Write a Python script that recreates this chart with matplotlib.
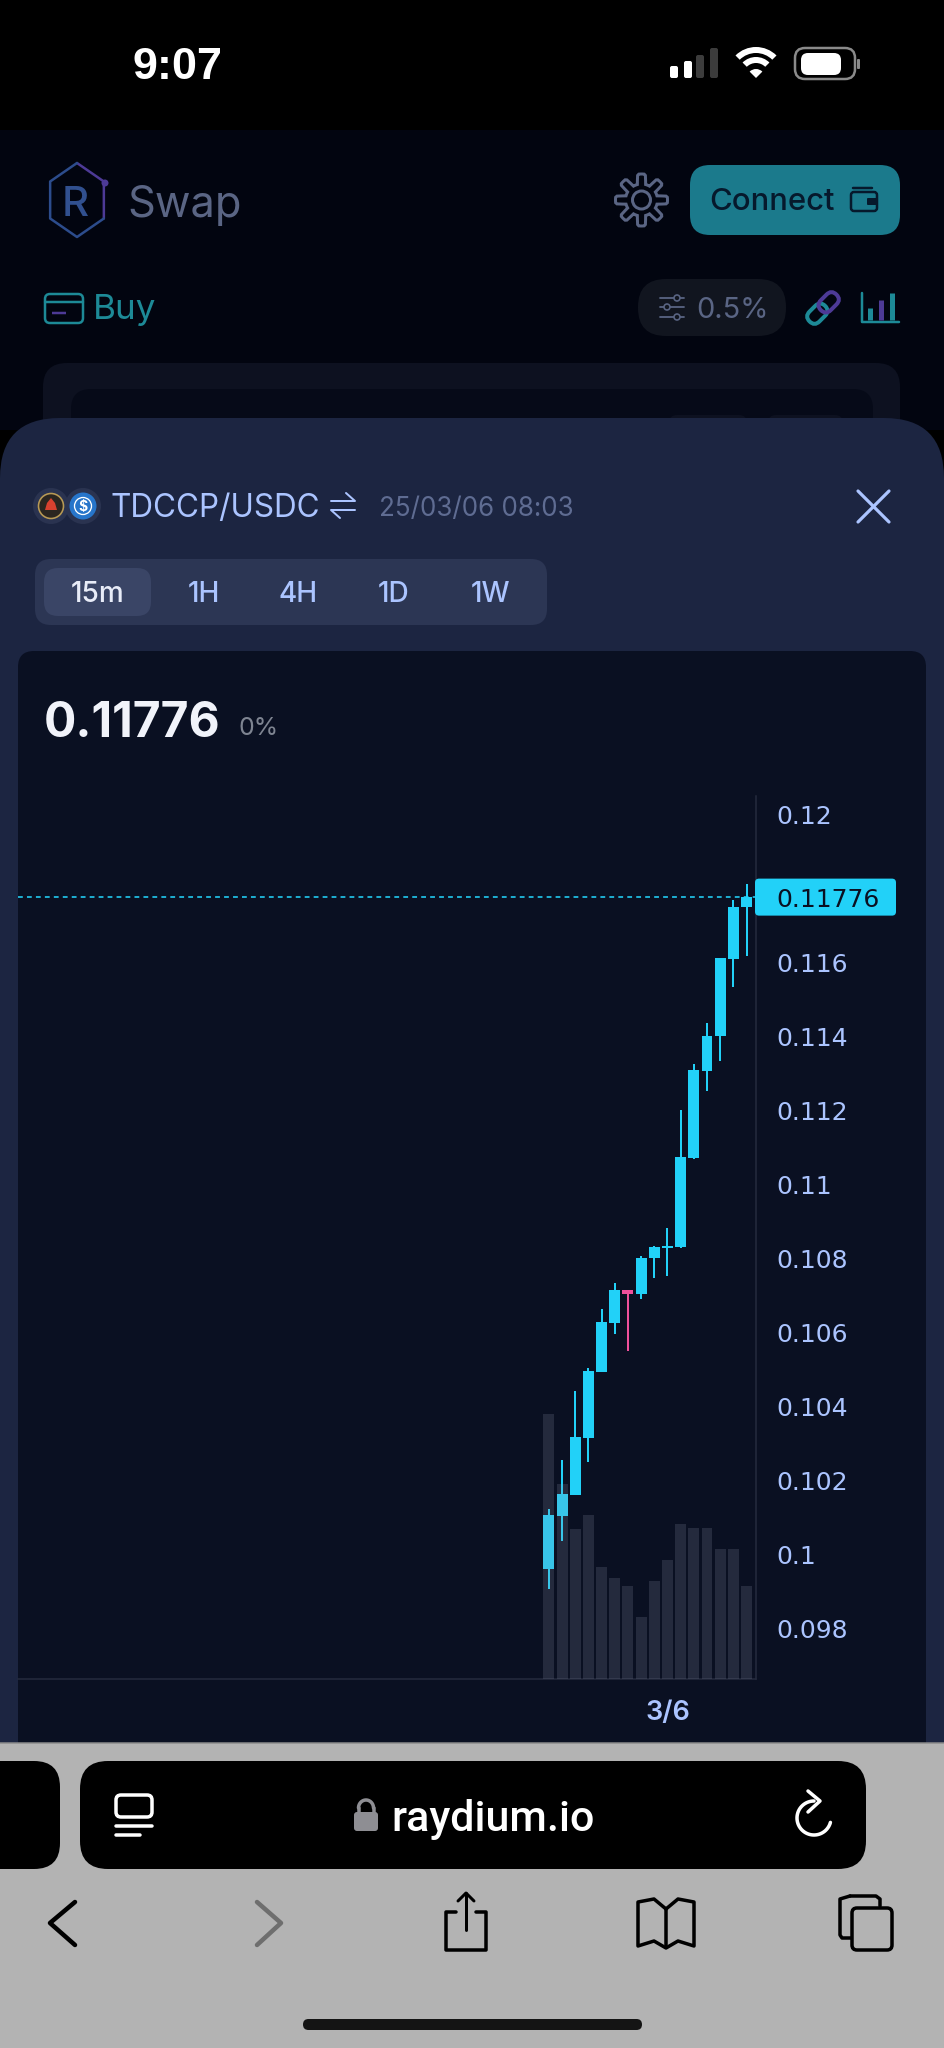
#!/usr/bin/env python3
"""Phone screenshot of the Raydium TDCCP/USDC 15m candle chart, redrawn with matplotlib."""
import matplotlib
matplotlib.use("Agg")
import matplotlib.pyplot as plt
import numpy as np
from matplotlib.patches import Circle, FancyBboxPatch, Polygon, Wedge
from matplotlib.transforms import Affine2D

plt.rcParams["font.family"] = ["Inter", "DejaVu Sans"]

# candle values
opens = [0.09963, 0.10105, 0.10163, 0.10317, 0.10495, 0.10627, 0.10715, 0.10704,
         0.10802, 0.10828, 0.10832, 0.11071, 0.11307, 0.11400, 0.11609, 0.11748]
closes = [0.10107, 0.10165, 0.10319, 0.10497, 0.10629, 0.10715, 0.10704, 0.10803,
          0.10831, 0.10833, 0.11073, 0.11309, 0.11402, 0.11611, 0.11749, 0.11776]
highs = [0.10125, 0.10256, 0.10443, 0.10506, 0.10664, 0.10735, 0.10715, 0.10807,
         0.10834, 0.10882, 0.11201, 0.11326, 0.11435, 0.11611, 0.11768, 0.11811]
lows = [0.09909, 0.10038, 0.10163, 0.10252, 0.10494, 0.10596, 0.10551, 0.10690,
        0.10748, 0.10754, 0.10830, 0.11068, 0.11253, 0.11334, 0.11534, 0.11618]
volumes = [100, 73.5, 56.8, 61.8, 42.4, 38.2, 35.1, 23.6,
           37.2, 45.1, 58.4, 57.1, 57.1, 49.0, 49.2, 35.1]
# 0.118 sits behind the price tag in the reference, so it is left out
y_ticks = [0.098, 0.1, 0.102, 0.104, 0.106, 0.108, 0.11, 0.112, 0.114, 0.116, 0.12]
y_labels = ["0.098", "0.1", "0.102", "0.104", "0.106", "0.108", "0.11", "0.112",
            "0.114", "0.116", "0.12"]
last_price = 0.11776
date_tick = 9
date_label = "3/6"
tabs = ["15m", "1H", "4H", "1D", "1W"]

W, H = 944, 2048
UP = "#22d1f8"
DOWN = "#f0509c"
PERI = "#abc4ff"
SHEET = "#1c2541"
PANEL = "#0a1022"
MUTED = "#5a6584"
TEAL = "#1d8a97"
PURPLE = "#4d3a96"


def pt(px):
    return px * 0.72


def rrect(a, x0, y0, x1, y1, r, fc="none", ec="none", lw=0, z=1):
    p = FancyBboxPatch((x0 + r, y0 + r), x1 - x0 - 2 * r, y1 - y0 - 2 * r,
                       boxstyle=f"round,pad={r},rounding_size={r}",
                       fc=fc, ec=ec, lw=pt(lw), zorder=z)
    a.add_patch(p)
    return p


def stroke(a, xs, ys, color, lw, z=3, cap="round"):
    a.plot(xs, ys, color=color, lw=pt(lw), zorder=z, solid_capstyle=cap, solid_joinstyle="round")


def label(a, x, y, s, px, color, ha="left", weight="normal", family=None, z=4):
    a.text(x, y, s, fontsize=pt(px), color=color, ha=ha, va="center_baseline", weight=weight,
           zorder=z, family=family or ["Inter", "DejaVu Sans"])


fig = plt.figure(figsize=(W / 100, H / 100), dpi=100, facecolor="#000000")

ui = fig.add_axes([0, 0, 1, 1], zorder=1)
ui.set_xlim(0, W)
ui.set_ylim(H, 0)
ui.axis("off")

# status bar
ui.add_patch(plt.Rectangle((0, 130), W, 300, fc="#020510", zorder=0))
label(ui, 133, 63, "9:07", 45, "white", weight="bold", family=["Liberation Sans"])
for x0, top, col in [(670, 66, "white"), (684, 61, "white"), (696, 55, "#3c3c3c"), (710, 48, "#3c3c3c")]:
    rrect(ui, x0, top, x0 + 8, 78, 2, fc=col)
ui.add_patch(Wedge((756, 76), 29, 225, 315, width=6, fc="white", ec="none"))
ui.add_patch(Wedge((756, 76), 19, 225, 315, width=6, fc="white", ec="none"))
ui.add_patch(Wedge((756, 78), 9, 225, 315, fc="white", ec="none"))
rrect(ui, 795, 48, 855, 79, 10, ec="#8a8a8a", lw=2.5)
rrect(ui, 801, 53, 841, 75, 7, fc="white")
rrect(ui, 857, 59, 860, 69, 1, fc="#8a8a8a")

# page header, dimmed behind the sheet
hx = 77 + 31 * np.sin(np.radians(np.arange(0, 420, 60)))
hy = 200 - 37 * np.cos(np.radians(np.arange(0, 420, 60)))
stroke(ui, hx[:3], hy[:3], PURPLE, 2.5)
stroke(ui, hx[2:], hy[2:], "#2c4c8c", 2.5)
ui.add_patch(Circle((105, 183), 3.5, fc=PURPLE))
label(ui, 62, 201, "R", 42, "#31508f", weight="medium")
label(ui, 127, 201, "Swap", 43.5, MUTED)

t = np.radians(np.arange(0, 361, 3))
gr = 21 + 5 * np.clip(2.5 * np.cos(8 * t), -1, 1)
ui.add_patch(Polygon(np.c_[641.5 + gr * np.cos(t), 200 + gr * np.sin(t)], fc="none", ec=MUTED, lw=pt(3)))
ui.add_patch(Circle((641.5, 200), 9, fc="none", ec=MUTED, lw=pt(3)))

rrect(ui, 690, 165, 900, 235, 20, fc="#1b7a8c")
label(ui, 709, 199, "Connect", 31, "#06192c", weight="medium")
rrect(ui, 851, 192, 877, 211, 3, ec="#06192c", lw=2.5)
stroke(ui, [853, 872], [188, 188], "#06192c", 2.5)
rrect(ui, 867, 198, 877, 205, 1, fc="#06192c")

rrect(ui, 45, 294, 83, 323, 5, ec=TEAL, lw=2.5)
stroke(ui, [45, 83], [302, 302], TEAL, 2.5)
stroke(ui, [52, 66], [313, 313], PURPLE, 2.5, cap="butt")
label(ui, 93, 307, "Buy", 35, TEAL)
rrect(ui, 638, 279, 786, 336, 28, fc="#11151f")
for ly, kx in [(298, 677), (307, 667), (317, 677)]:
    stroke(ui, [660, 684], [ly, ly], MUTED, 1.8)
    ui.add_patch(Circle((kx, ly), 3, fc="#11151f", ec=MUTED, lw=pt(1.6), zorder=4))
label(ui, 696, 307, "0.5%", 29, MUTED)
rot = Affine2D().rotate_deg_around(823, 308, -45) + ui.transData
rrect(ui, 804, 301, 826, 315, 7, ec=TEAL, lw=4).set_transform(rot)
rrect(ui, 820, 301, 842, 315, 7, ec=PURPLE, lw=4).set_transform(rot)
stroke(ui, [862, 862, 899], [293, 322, 322], TEAL, 2.5)
stroke(ui, [870, 870], [320, 308], TEAL, 5, cap="butt")
stroke(ui, [881, 881], [320, 300], PURPLE, 5, cap="butt")
stroke(ui, [892, 892], [320, 293], TEAL, 5, cap="butt")

rrect(ui, 43, 363, 900, 470, 24, fc="#0d1120")
rrect(ui, 71, 389, 873, 470, 20, fc="#060a18")
rrect(ui, 669, 415, 747, 450, 8, fc="#0d1120")
rrect(ui, 768, 415, 843, 450, 8, fc="#0d1120")

# bottom sheet and its title row
rrect(ui, 0, 418, W, 1860, 60, fc=SHEET, z=2)
ui.add_patch(Circle((51, 506), 18, fc="#2a3350", zorder=3))
ui.add_patch(Circle((83, 506), 18, fc="#2a3350", zorder=3))
ui.add_patch(Circle((51, 506), 12.5, fc="#2b2620", ec="#b89a55", lw=pt(1.6), zorder=4))
ui.add_patch(Polygon([(45, 510), (47, 503), (51, 498), (55, 503), (57, 510)], fc="#d8412f", zorder=5))
ui.add_patch(Circle((83, 506), 13.5, fc="#2775ca", zorder=4))
ui.add_patch(Circle((83, 506), 8.5, fc="none", ec="white", lw=pt(1.3), zorder=5))
label(ui, 83, 506, "$", 14, "white", ha="center", weight="bold", z=6)
label(ui, 110, 505, "TDCCP/USDC", 31.5, PERI)
stroke(ui, [331, 355, 346], [501, 501, 493], PERI, 2)
stroke(ui, [355, 331, 340], [510, 510, 518], PERI, 2)
label(ui, 379, 506, "25/03/06 08:03", 26, "#5f6c92")
stroke(ui, [858, 889], [491, 522], PERI, 3.2)
stroke(ui, [889, 858], [491, 522], PERI, 3.2)

rrect(ui, 35, 559, 547, 625, 16, fc="#2c3654", z=3)
rrect(ui, 44, 568, 151, 616, 14, fc="#3a4566", z=3)
for name, tx in zip(tabs, [98, 204, 298, 394, 491]):
    label(ui, tx, 592, name, 28, "#e8ecf8" if name == "15m" else PERI, ha="center", weight="medium")

rrect(ui, 18, 651, 926, 1800, 16, fc=PANEL, z=3)
label(ui, 44, 719, "0.11776", 48, "#f1f3fa", weight="bold")
label(ui, 238, 726, "0%", 25, "#7e8491")

# candle chart, axes placed on the panel
ax = fig.add_axes([18 / W, 1 - 1679 / H, (756 - 18) / W, (1679 - 796) / H], zorder=2)
ax.patch.set_alpha(0)
x = np.arange(len(opens))
o, c, hi, lo = map(np.array, (opens, closes, highs, lows))
cols = [UP if b >= a else DOWN for a, b in zip(o, c)]
ax.vlines(x, lo, hi, colors=cols, lw=pt(2), zorder=2)
ax.bar(x, np.abs(c - o), bottom=np.minimum(o, c), width=0.83, color=cols, zorder=3)
ax.axhline(last_price, color=UP, lw=pt(1.6), ls=(0, (3, 2.6)), zorder=1)
ax.set_xlim(-40.3, 15.72)
ax.set_ylim(0.09665, 0.12049)

vol = ax.twinx()
vol.set_ylim(0, 333.6)
vol.bar(x, volumes, width=0.83, color="#9197ae", alpha=0.2, zorder=4)
vol.axis("off")

# twinx moves the price ticks to the left, so set them up after it
ax.set_xticks([date_tick])
ax.set_xticklabels([date_label], fontsize=pt(27), color=PERI, weight="semibold")
ax.set_yticks(y_ticks)
ax.set_yticklabels(y_labels, fontsize=pt(25), color=PERI, family="DejaVu Sans")
ax.yaxis.tick_right()
ax.tick_params(axis="both", length=0)
ax.tick_params(axis="y", pad=pt(20))
ax.tick_params(axis="x", pad=pt(21))
for tick in ax.get_yticklabels():
    tick.set_verticalalignment("center_baseline")
for side in ("left", "top"):
    ax.spines[side].set_visible(False)
for side in ("right", "bottom"):
    ax.spines[side].set_color("#252b3e")
    ax.spines[side].set_linewidth(pt(1.5))

# top layer: price tag and browser chrome
top = fig.add_axes([0, 0, 1, 1], zorder=3)
top.set_xlim(0, W)
top.set_ylim(H, 0)
top.axis("off")
tag_y = H - ax.transData.transform((0, last_price))[1]
rrect(top, 755, tag_y - 18.5, 896, tag_y + 18.5, 4, fc=UP)
label(top, 776, tag_y, f"{last_price:.5f}", 25, "#0a1022", family=["DejaVu Sans"])

top.add_patch(plt.Rectangle((0, 1743), W, H - 1743, fc="#b3b3b3", zorder=1))
stroke(top, [0, W], [1743, 1743], "#8c8c8c", 1.5)
rrect(top, -40, 1761, 60, 1869, 26, fc="black", z=2)
rrect(top, 80, 1761, 866, 1869, 28, fc="black", z=2)
rrect(top, 116, 1795, 152, 1817, 5, ec="white", lw=3.5, z=3)
stroke(top, [116, 152], [1826, 1826], "white", 3.5)
stroke(top, [116, 140], [1835, 1835], "white", 3.5)
rrect(top, 354, 1812, 378, 1831, 3, fc="#8e8e93", z=3)
th = np.radians(np.linspace(180, 360, 30))
stroke(top, 366 + 7.5 * np.cos(th), 1808 + 8 * np.sin(th), "#8e8e93", 3.5)
stroke(top, [358.5, 358.5], [1808, 1813], "#8e8e93", 3.5)
stroke(top, [373.5, 373.5], [1808, 1813], "#8e8e93", 3.5)
label(top, 391, 1815, "raydium.io", 43, "white", weight="medium", family=["Roboto"])
th = np.radians(np.linspace(15, 270, 50))
stroke(top, 814 + 17 * np.cos(th), 1818 + 17 * np.sin(th), "white", 3.5)
stroke(top, [808, 820, 808], [1791, 1801, 1812], "white", 3.5)

stroke(top, [75, 50, 75], [1902, 1923, 1945], "black", 4.5)
stroke(top, [257, 281, 257], [1902, 1923, 1945], "#6e6e6e", 4.5)
stroke(top, [456, 446, 446, 486, 486, 476], [1912, 1912, 1950, 1950, 1912, 1912], "black", 3.5)
stroke(top, [466, 466], [1893, 1930], "black", 3)
stroke(top, [458, 466, 474], [1901, 1893, 1901], "black", 3)
stroke(top, [666, 654, 638, 638, 654, 666, 678, 694, 694, 678, 666],
       [1909, 1899, 1902, 1946, 1941, 1948, 1941, 1946, 1902, 1899, 1909], "black", 3.5)
stroke(top, [666, 666], [1909, 1945], "black", 3.5)
stroke(top, [851, 842, 840, 840, 850], [1938, 1938, 1935, 1899, 1896], "black", 3.5)
stroke(top, [850, 876, 880, 880], [1896, 1896, 1899, 1906], "black", 3.5)
rrect(top, 852, 1908, 892, 1950, 5, ec="black", lw=3.5, z=3)
rrect(top, 303, 2019, 642, 2030, 5.5, fc="#141414", z=3)

fig.savefig("out.png", dpi=100, facecolor=fig.get_facecolor())
